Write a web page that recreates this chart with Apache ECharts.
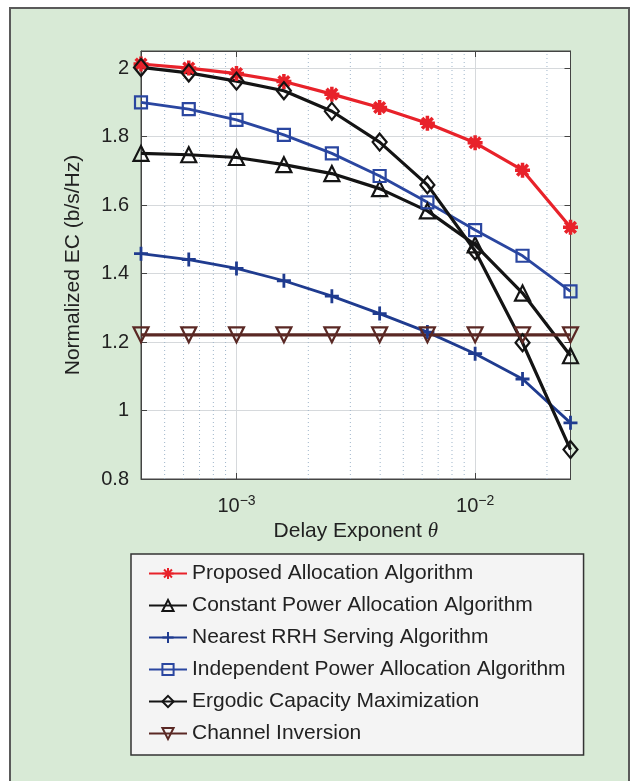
<!DOCTYPE html>
<html>
<head>
<meta charset="utf-8">
<script src="https://cdn.jsdelivr.net/npm/echarts@6/dist/echarts.min.js"></script>
<style>
  html, body { margin: 0; padding: 0; background: #ffffff; }
  #panel { position: absolute; left: 9px; top: 7px; width: 617px; height: 790px; background: #d8ead6; border: 2px solid #5a5a5a; }
  #chart { position: absolute; left: 0; top: 0; width: 633px; height: 781px; }
</style>
</head>
<body>
<div id="panel"></div>
<div id="chart"></div>
<script>
// Delay exponent theta (x values, log axis)
const theta = [0.000398, 0.000631, 0.001, 0.00158, 0.00251, 0.00398, 0.00631, 0.01, 0.0158, 0.0251];

// Series values (normalized EC, b/s/Hz)
const proposed    = [2.012, 2.000, 1.984, 1.961, 1.924, 1.885, 1.839, 1.782, 1.702, 1.535];
const constant    = [1.751, 1.747, 1.739, 1.718, 1.692, 1.648, 1.583, 1.484, 1.343, 1.160];
const nearest     = [1.458, 1.441, 1.415, 1.379, 1.334, 1.283, 1.229, 1.166, 1.092, 0.964];
const independent = [1.900, 1.880, 1.849, 1.805, 1.751, 1.685, 1.608, 1.527, 1.452, 1.348];
const ergodic     = [2.002, 1.986, 1.962, 1.934, 1.874, 1.784, 1.659, 1.466, 1.198, 0.886];
const inversion   = [1.221, 1.221, 1.221, 1.221, 1.221, 1.221, 1.221, 1.221, 1.221, 1.221];

const seriesNames = [
  'Proposed Allocation Algorithm',
  'Constant Power Allocation Algorithm',
  'Nearest RRH Serving Algorithm',
  'Independent Power Allocation Algorithm',
  'Ergodic Capacity Maximization',
  'Channel Inversion'
];

// Minor (dotted) vertical grid positions on the log axis
const minorGrid = [0.0005, 0.0006, 0.0007, 0.0008, 0.0009,
                   0.002, 0.003, 0.004, 0.005, 0.006, 0.007, 0.008, 0.009, 0.02];

const xMin = 0.000398, xMax = 0.0251;
const yMin = 0.8, yMax = 2.05, yStep = 0.2;

const FONT = '"Liberation Sans", Arial, Helvetica, sans-serif';

function pairs(ys) { return theta.map((x, i) => [x, ys[i]]); }

const hollow = 'rgba(0,0,0,0)';
const asterisk = 'path://M0,-10L0,10M-10,0L10,0M-7.1,-7.1L7.1,7.1M-7.1,7.1L7.1,-7.1';
const plus = 'path://M0,-10L0,10M-10,0L10,0';

function mk(name, ys, color, symbol, size, opts) {
  return Object.assign({
    name: name,
    type: 'line',
    data: pairs(ys),
    symbol: symbol,
    symbolSize: size,
    showAllSymbol: true,
    lineStyle: { color: color, width: 3.2 },
    itemStyle: { color: hollow, borderColor: color, borderWidth: 2.2 },
    emphasis: { disabled: true },
    animation: false,
    z: 3
  }, opts || {});
}

const minorSeries = minorGrid.map(v => ({
  name: 'minor-' + v, type: 'line', data: [[v, yMin], [v, yMax]],
  symbol: 'none', silent: true, z: 1, animation: false,
  lineStyle: { type: [1, 3], color: '#9fb5ca', width: 1 },
  emphasis: { disabled: true }
}));

const chart = echarts.init(document.getElementById('chart'), null, { renderer: 'canvas' });

const option = {
  backgroundColor: 'transparent',
  animation: false,
  textStyle: { fontFamily: FONT },
  grid: {
    left: 141, top: 51, width: 429.5, height: 428,
    show: true, backgroundColor: '#ffffff', borderColor: '#444', borderWidth: 1
  },
  legend: {
    data: seriesNames,
    orient: 'vertical',
    left: 131, top: 554,
    itemWidth: 38, itemHeight: 14, itemGap: 11,
    padding: [9, 18, 11, 17],
    backgroundColor: '#f4f4f4',
    borderColor: '#333', borderWidth: 1.5,
    textStyle: { fontSize: 21, color: '#222', fontFamily: FONT, lineHeight: 21 },
    selectedMode: false
  },
  xAxis: [{
    type: 'log', logBase: 10, min: xMin, max: xMax,
    name: 'Delay Exponent {it|θ}',
    nameLocation: 'middle', nameGap: 36,
    nameTextStyle: {
      fontSize: 21, color: '#222', fontFamily: FONT,
      rich: { it: { fontSize: 21, fontStyle: 'italic', fontFamily: '"Liberation Serif", "DejaVu Serif", serif', color: '#222' } }
    },
    axisLine: { show: true, lineStyle: { color: '#444', width: 1 } },
    axisTick: { show: true, inside: true, length: 6, lineStyle: { color: '#444' } },
    axisLabel: {
      showMinLabel: false, showMaxLabel: false, margin: 15,
      fontSize: 20, color: '#222', fontFamily: FONT,
      formatter: function (v) {
        const e = Math.log10(v);
        if (Math.abs(e - Math.round(e)) < 1e-6) return '10{sup|−' + (-Math.round(e)) + '}';
        return '';
      },
      rich: { sup: { fontSize: 14, color: '#222', fontFamily: FONT, padding: [0, 0, 10, 0] } }
    },
    splitLine: { show: true, lineStyle: { color: '#d6d9dc', width: 1 } }
  }, {
    type: 'log', logBase: 10, min: xMin, max: xMax, position: 'top',
    axisLine: { show: true, lineStyle: { color: '#444' } },
    axisTick: { show: true, inside: true, length: 6, lineStyle: { color: '#444' } },
    axisLabel: { show: false },
    splitLine: { show: false }
  }],
  yAxis: [{
    type: 'value', min: yMin, max: yMax, interval: yStep,
    name: 'Normalized EC (b/s/Hz)',
    nameLocation: 'middle', nameGap: 57,
    nameTextStyle: { fontSize: 21, color: '#222', fontFamily: FONT },
    axisLine: { show: true, lineStyle: { color: '#444', width: 1 } },
    axisTick: { show: true, inside: true, length: 6, lineStyle: { color: '#444' } },
    axisLabel: {
      showMaxLabel: false, margin: 12, fontSize: 20, color: '#222', fontFamily: FONT,
      formatter: function (v) { return String(Math.round(v * 100) / 100); }
    },
    splitLine: { show: true, lineStyle: { color: '#d6d9dc', width: 1 } }
  }, {
    type: 'value', min: yMin, max: yMax, interval: yStep, position: 'right',
    axisLine: { show: true, lineStyle: { color: '#444' } },
    axisTick: { show: true, inside: true, length: 6, lineStyle: { color: '#444' } },
    axisLabel: { show: false },
    splitLine: { show: false }
  }],
  series: minorSeries.concat([
    mk(seriesNames[0], proposed, '#e8222a', asterisk, 15, {
      itemStyle: { color: '#e8222a', borderColor: '#e8222a', borderWidth: 3.5 }
    }),
    mk(seriesNames[1], constant, '#141414', 'triangle', 15),
    mk(seriesNames[2], nearest, '#1f3b8f', plus, 14, {
      lineStyle: { color: '#1f3b8f', width: 2.8 },
      itemStyle: { color: '#1f3b8f', borderColor: '#1f3b8f', borderWidth: 2.8 }
    }),
    mk(seriesNames[3], independent, '#2a46a0', 'rect', 12, {
      lineStyle: { color: '#2a46a0', width: 2.8 }
    }),
    mk(seriesNames[4], ergodic, '#141414', 'diamond', [14, 17]),
    mk(seriesNames[5], inversion, '#5a2824', 'triangle', 15, { symbolRotate: 180 })
  ])
};

chart.setOption(option);
</script>
</body>
</html>
